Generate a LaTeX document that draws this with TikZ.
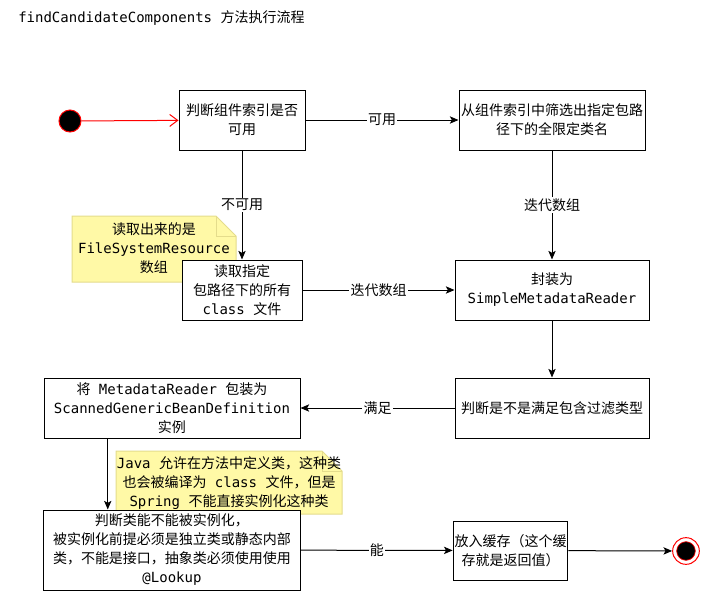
\documentclass[tikz,border=0pt]{standalone}
\usepackage{fontspec}
\setmainfont{Noto Sans CJK SC}
\newfontfamily\codefont{DejaVu Sans Mono}
\newcommand{\code}[1]{{\codefont #1}}
\newcommand{\flowfont}{\fontsize{10.5}{14.25}\selectfont}
\usepackage{xcolor}
\definecolor{notefill}{RGB}{255,249,166}
\definecolor{noteline}{RGB}{228,220,140}
\definecolor{startred}{RGB}{255,0,0}
\usetikzlibrary{arrows.meta, positioning, calc}

\tikzset{
  flowbox/.style={draw=black, line width=0.75pt, fill=white, align=center,
                  inner sep=1pt, font=\flowfont},
  flow/.style={line width=0.75pt, -{Stealth[length=6.5pt, width=5.5pt, inset=1.5pt]}},
  lbl/.style={fill=white, inner sep=1pt, font=\flowfont},
  notetext/.style={align=center, inner sep=0pt, font=\flowfont}
}

\begin{document}
\begin{tikzpicture}[x=0.75pt, y=-0.75pt]
\useasboundingbox (0,0) rectangle (701,594);

% ===== Title =====
\node[anchor=west, font=\flowfont, inner sep=0pt] (title) at (18,18)
     {\code{findCandidateComponents }方法执行流程};

% ===== Notes =====
\fill[notefill] (72,216) -- (216,216) -- (236,236) -- (236,282) -- (72,282) -- cycle;
\draw[noteline, line width=0.75pt] (72,216) -- (216,216) -- (236,236) -- (236,282) -- (72,282) -- cycle;
\draw[noteline, line width=0.75pt] (216,216) -- (216,236) -- (236,236);
\node[notetext] (note1) at (154,248)
     {读取出来的是\\\code{FileSystemResource}\\数组};

\fill[notefill] (116,451) -- (322,451) -- (342,471) -- (342,514) -- (116,514) -- cycle;
\draw[noteline, line width=0.75pt] (116,451) -- (322,451) -- (342,471) -- (342,514) -- (116,514) -- cycle;
\draw[noteline, line width=0.75pt] (322,451) -- (322,471) -- (342,471);
\node[notetext] (note2) at (229,483)
     {\code{Java }允许在方法中定义类，这种类\\也会被编译为\code{ class }文件，但是\\\code{Spring }不能直接实例化这种类};

% ===== Start / end =====
\node[circle, fill=black, draw=startred, line width=0.75pt, minimum size=16.5pt,
      inner sep=0pt] (start) at (70,121) {};
\node[circle, fill=white, draw=startred, line width=0.75pt, minimum size=20pt,
      inner sep=0pt] (stop) at (686,551) {};
\node[circle, fill=black, draw=startred, line width=0.5pt, minimum size=14pt,
      inner sep=0pt] (stopdot) at (stop) {};

% ===== Steps =====
\node[flowbox, minimum width=94.5pt, minimum height=45pt] (judge) at (242,120)
     {判断组件索引是否\\可用};
\node[flowbox, minimum width=139.5pt, minimum height=45pt] (filter) at (552,120)
     {从组件索引中筛选出指定包路\\径下的全限定类名};
\node[flowbox, minimum width=90pt, minimum height=45pt] (read) at (242,290)
     {读取指定\\包路径下的所有\\\code{class }文件};
\node[flowbox, minimum width=145.5pt, minimum height=45pt] (wrap) at (552,290)
     {封装为\\\code{SimpleMetadataReader}};
\node[flowbox, minimum width=145.5pt, minimum height=45pt] (match) at (552,408)
     {判断是不是满足包含过滤类型};
\node[flowbox, minimum width=192pt, minimum height=45pt] (scanned) at (172,408)
     {将\code{ MetadataReader }包装为\\\code{ScannedGenericBeanDefinition}\\实例};
\node[flowbox, minimum width=192.75pt, minimum height=60pt] (inst) at (172,550)
     {判断类能不能被实例化，\\被实例化前提必须是独立类或静态内部\\类，不能是接口，抽象类必须使用使用\\\code{@Lookup}};
\node[flowbox, minimum width=83.25pt, minimum height=44.25pt] (cache) at (510.5,550.5)
     {放入缓存（这个缓\\存就是返回值）};

% ===== Connectors =====
\draw[line width=0.75pt, startred, -{Straight Barb[length=6pt, width=9pt]}] (start) -- (judge);
\draw[flow] (judge) -- node[lbl] {可用} (filter);
\draw[flow] (judge) -- node[lbl] {不可用} (read);
\draw[flow] (filter) -- node[lbl] {迭代数组} (wrap);
\draw[flow] (read) -- node[lbl] {迭代数组} (wrap);
\draw[flow] (wrap) -- (match);
\draw[flow] (match) -- node[lbl] {满足} (scanned);
\coordinate (down) at ($(scanned.south west)!0.25!(scanned.south east)$);
\draw[flow] (down) -- (down |- inst.north);
\draw[flow] (inst) -- node[lbl] {能} (cache);
\draw[flow] (cache) -- (stop);

\end{tikzpicture}
\end{document}
